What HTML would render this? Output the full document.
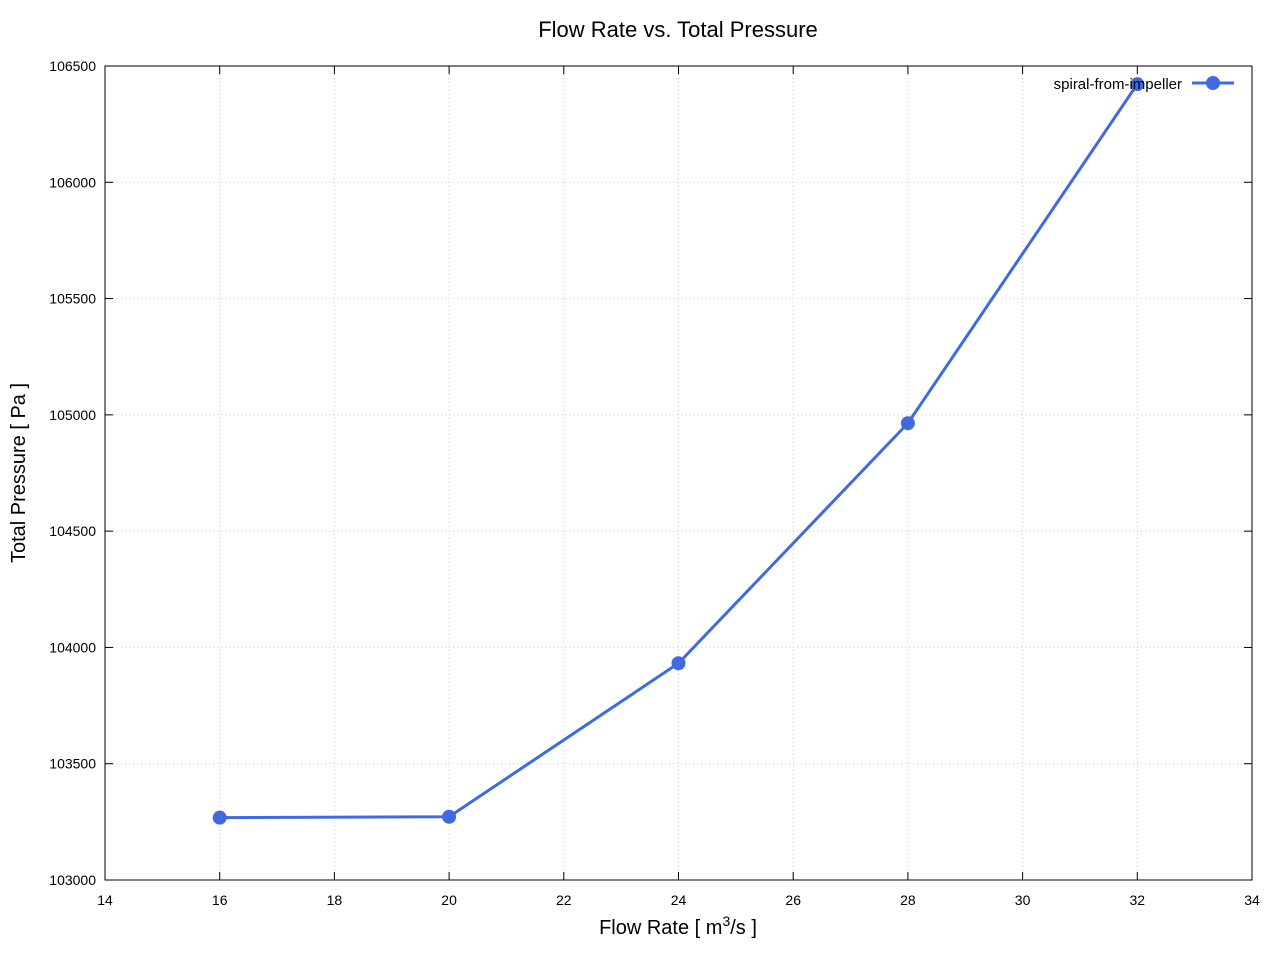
<!DOCTYPE html>
<html><head><meta charset="utf-8"><style>
body{margin:0;background:#fff;}
svg{display:block;font-family:"Liberation Sans","DejaVu Sans",sans-serif;}
</style></head><body>
<svg id="chart" width="1280" height="960">
<text x="678" y="37" font-size="22" text-anchor="middle">Flow Rate vs. Total Pressure</text>
<g id="grid"></g>
<g id="ticks"></g>
<rect x="105" y="66" width="1147" height="814" fill="none" stroke="#000" stroke-width="1"/>
<text x="678" y="934" font-size="20" text-anchor="middle">Flow Rate [ m<tspan dy="-8" font-size="14">3</tspan><tspan dy="8">/s ]</tspan></text>
<text transform="translate(25,473) rotate(-90)" font-size="20" text-anchor="middle">Total Pressure [ Pa ]</text>
<g id="series"></g>
<g>
<text x="1182" y="89" font-size="15" text-anchor="end">spiral-from-impeller</text>
<line x1="1192" y1="83" x2="1234" y2="83" stroke="#4169e1" stroke-width="3"/>
<circle cx="1213" cy="83" r="7" fill="#4169e1"/>
</g>
</svg>
<script>
const xTicks=[14,16,18,20,22,24,26,28,30,32,34];
const yTicks=[103000,103500,104000,104500,105000,105500,106000,106500];
const flowRates=[16,20,24,28,32];
const pressures=[103268,103272,103932,104964,106422];
const L=105,R=1252,T=66,B=880;
const sx=v=>L+(v-14)/(34-14)*(R-L);
const sy=v=>B-(v-103000)/(106500-103000)*(B-T);
const NS="http://www.w3.org/2000/svg";
function mk(tag,attrs,parent){const e=document.createElementNS(NS,tag);for(const k in attrs)e.setAttribute(k,attrs[k]);parent.appendChild(e);return e;}
const grid=document.getElementById('grid'),ticks=document.getElementById('ticks'),ser=document.getElementById('series');
xTicks.forEach(t=>{const x=sx(t);
 if(t>14&&t<34){const g=mk('line',{x1:x,x2:x,y1:T,y2:B,stroke:'#ccc','stroke-dasharray':'1,3'},grid);
 
 }
 mk('line',{x1:x,x2:x,y1:B,y2:B-8,stroke:'#000'},ticks);mk('line',{x1:x,x2:x,y1:T,y2:T+8,stroke:'#000'},ticks);
 const tx=mk('text',{x:x,y:905,'font-size':14,'text-anchor':'middle'},ticks);tx.textContent=t;
 
 });
yTicks.forEach(t=>{const y=sy(t);
 if(t>103000&&t<106500){const g=mk('line',{x1:L,x2:R,y1:y,y2:y,stroke:'#ccc','stroke-dasharray':'1,3'},grid);
 
 }
 mk('line',{x1:L,x2:L+8,y1:y,y2:y,stroke:'#000'},ticks);mk('line',{x1:R,x2:R-8,y1:y,y2:y,stroke:'#000'},ticks);
 const tx=mk('text',{x:96,y:y+5,'font-size':14,'text-anchor':'end'},ticks);tx.textContent=t;
 
 });
const pts=flowRates.map((f,i)=>sx(f)+','+sy(pressures[i])).join(' ');
const pl=mk('polyline',{points:pts,fill:'none',stroke:'#4169e1','stroke-width':3},ser);


flowRates.forEach((f,i)=>{const c=mk('circle',{cx:sx(f),cy:sy(pressures[i]),r:7,fill:'#4169e1'},ser);
 
 });
</script>
</body></html>
